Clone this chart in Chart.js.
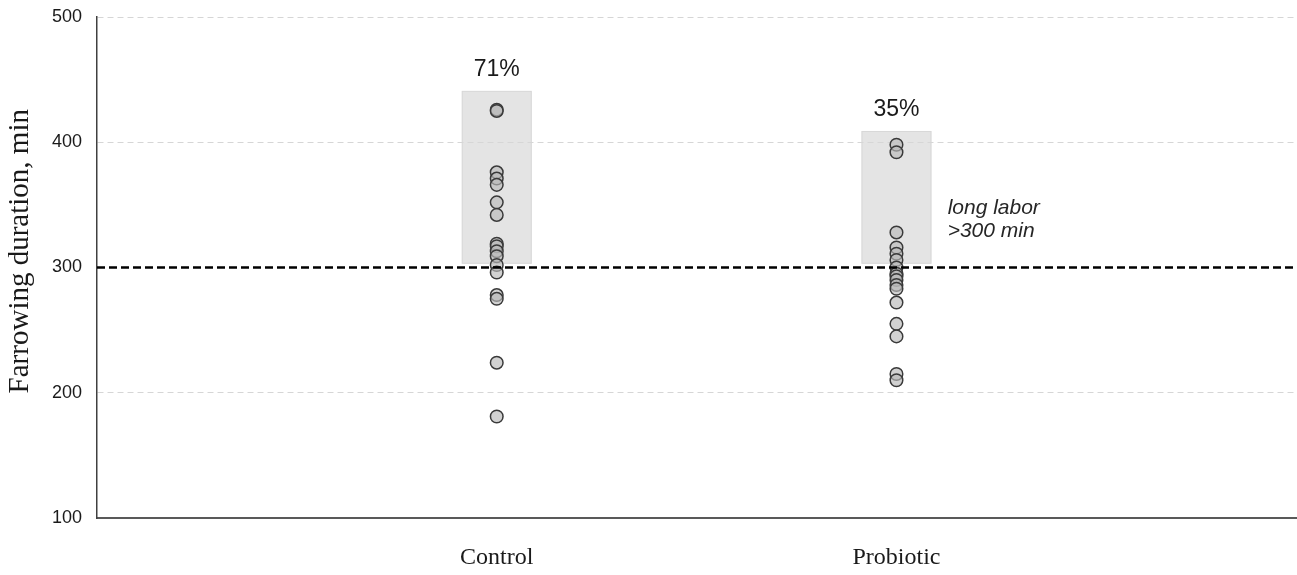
<!DOCTYPE html>
<html>
<head>
<meta charset="utf-8">
<script src="https://cdn.jsdelivr.net/npm/chart.js@4.4.1/dist/chart.umd.min.js"></script>
<style>
  html, body { margin: 0; padding: 0; background: #ffffff; overflow: hidden; }
  #wrap { width: 1304px; height: 575px; position: relative; }
</style>
</head>
<body>
<div id="wrap"><canvas id="farrowChart"></canvas></div>
<script>
const groups = ["Control", "Probiotic"];
const groupX = [1, 2];

// farrowing duration per sow, minutes
const controlMin = [426, 425, 376, 371, 366, 352, 342, 319, 317, 313, 309, 302, 296, 278, 275, 224, 181];
const probioticMin = [398, 392, 328, 316, 311, 306, 300, 295, 293, 290, 286, 283, 272, 255, 245, 215, 210];

const thresholdMin = 300;
const boxTop = [441, 409];
const boxBottom = [303, 303];
const yTicks = [100, 200, 300, 400, 500];
const yTitle = "Farrowing duration, min";
const noteLines = ["long labor", ">300 min"];
const noteAt = { x: 2.128, y: 343 };

function shareAbove(values, limit) {
  const above = values.filter((v) => v > limit).length;
  return Math.round((above / values.length) * 100);
}

const shares = [shareAbove(controlMin, thresholdMin), shareAbove(probioticMin, thresholdMin)];

const shadeBoxes = {
  id: "shadeBoxes",
  beforeDraw(chart) {
    const { ctx, scales } = chart;
    const x = scales.x;
    const y = scales.y;
    ctx.save();
    groupX.forEach((gx, i) => {
      const left = x.getPixelForValue(gx - 0.0875);
      const right = x.getPixelForValue(gx + 0.0875);
      const top = y.getPixelForValue(boxTop[i]);
      const bottom = y.getPixelForValue(boxBottom[i]);
      ctx.fillStyle = "#e4e4e4";
      ctx.fillRect(left, top, right - left, bottom - top);
      ctx.strokeStyle = "#d8d8d8";
      ctx.lineWidth = 1;
      ctx.strokeRect(left + 0.5, top + 0.5, right - left - 1, bottom - top - 1);
    });

    // axis title, sits a little above the middle of the axis
    ctx.translate(20, y.getPixelForValue(313));
    ctx.rotate(-Math.PI / 2);
    ctx.textAlign = "center";
    ctx.textBaseline = "middle";
    ctx.fillStyle = "#1a1a1a";
    ctx.font = "29px 'Liberation Serif', 'Times New Roman', serif";
    ctx.fillText(yTitle, 0, 0);
    ctx.restore();
  },
  afterDatasetsDraw(chart) {
    const { ctx, scales } = chart;
    const x = scales.x;
    const y = scales.y;
    ctx.save();
    ctx.fillStyle = "#1a1a1a";
    ctx.textAlign = "center";
    ctx.textBaseline = "alphabetic";
    ctx.font = "23px 'Liberation Sans', Arial, sans-serif";
    groupX.forEach((gx, i) => {
      ctx.fillText(shares[i] + "%", x.getPixelForValue(gx), y.getPixelForValue(boxTop[i]) - 15);
    });
    ctx.textAlign = "left";
    ctx.font = "italic 21px 'Liberation Sans', Arial, sans-serif";
    ctx.fillStyle = "#262626";
    const nx = x.getPixelForValue(noteAt.x);
    const ny = y.getPixelForValue(noteAt.y);
    noteLines.forEach((line, i) => ctx.fillText(line, nx, ny + i * 23));
    ctx.restore();
  },
};

const ptStyle = {
  pointRadius: 6.3,
  pointHoverRadius: 6.3,
  pointBackgroundColor: "rgba(185, 185, 185, 0.65)",
  pointBorderColor: "#3a3a3a",
  pointBorderWidth: 1.5,
  showLine: false,
  order: 1,
};

const ctx = document.getElementById("farrowChart").getContext("2d");
new Chart(ctx, {
  type: "scatter",
  data: {
    datasets: [
      {
        label: "threshold",
        type: "line",
        data: [{ x: 0, y: thresholdMin }, { x: 3, y: thresholdMin }],
        borderColor: "#000000",
        borderWidth: 2.5,
        borderDash: [8, 4],
        pointRadius: 0,
        fill: false,
        order: 0,
      },
      Object.assign({ label: groups[0], data: controlMin.map((v) => ({ x: groupX[0], y: v })) }, ptStyle),
      Object.assign({ label: groups[1], data: probioticMin.map((v) => ({ x: groupX[1], y: v })) }, ptStyle),
    ],
  },
  options: {
    responsive: true,
    maintainAspectRatio: false,
    animation: false,
    layout: { padding: { top: 17, right: 0, left: 0, bottom: 0 } },
    plugins: {
      legend: { display: false },
      tooltip: { enabled: false },
    },
    scales: {
      x: {
        type: "linear",
        min: 0,
        max: 3,
        afterBuildTicks(scale) {
          scale.ticks = groupX.map((v) => ({ value: v }));
        },
        afterFit(scale) {
          scale.height = 57;
          scale.paddingLeft = 0;
          scale.paddingRight = 0;
        },
        ticks: {
          padding: 25,
          color: "#1a1a1a",
          font: { family: "'Liberation Serif', 'Times New Roman', serif", size: 24 },
          callback: (v) => groups[groupX.indexOf(v)] || "",
        },
        grid: { display: false, drawTicks: false },
        border: { display: true, color: "#595959", width: 2 },
      },
      y: {
        min: 100,
        max: 500,
        afterBuildTicks(scale) {
          scale.ticks = yTicks.map((v) => ({ value: v }));
        },
        afterFit(scale) {
          scale.width = 97;
          scale.paddingTop = 0;
          scale.paddingBottom = 0;
        },
        ticks: {
          padding: 15,
          color: "#1a1a1a",
          font: { family: "'Liberation Sans', Arial, sans-serif", size: 18 },
        },
        grid: {
          drawTicks: false,
          color: (c) => (c.tick && (c.tick.value === 100 || c.tick.value === 300) ? "rgba(0,0,0,0)" : "#d6d6d6"),
          lineWidth: 1,
        },
        border: { display: true, color: "#404040", width: 1.5, dash: [6, 4] },
      },
    },
  },
  plugins: [shadeBoxes],
});
</script>
</body>
</html>
